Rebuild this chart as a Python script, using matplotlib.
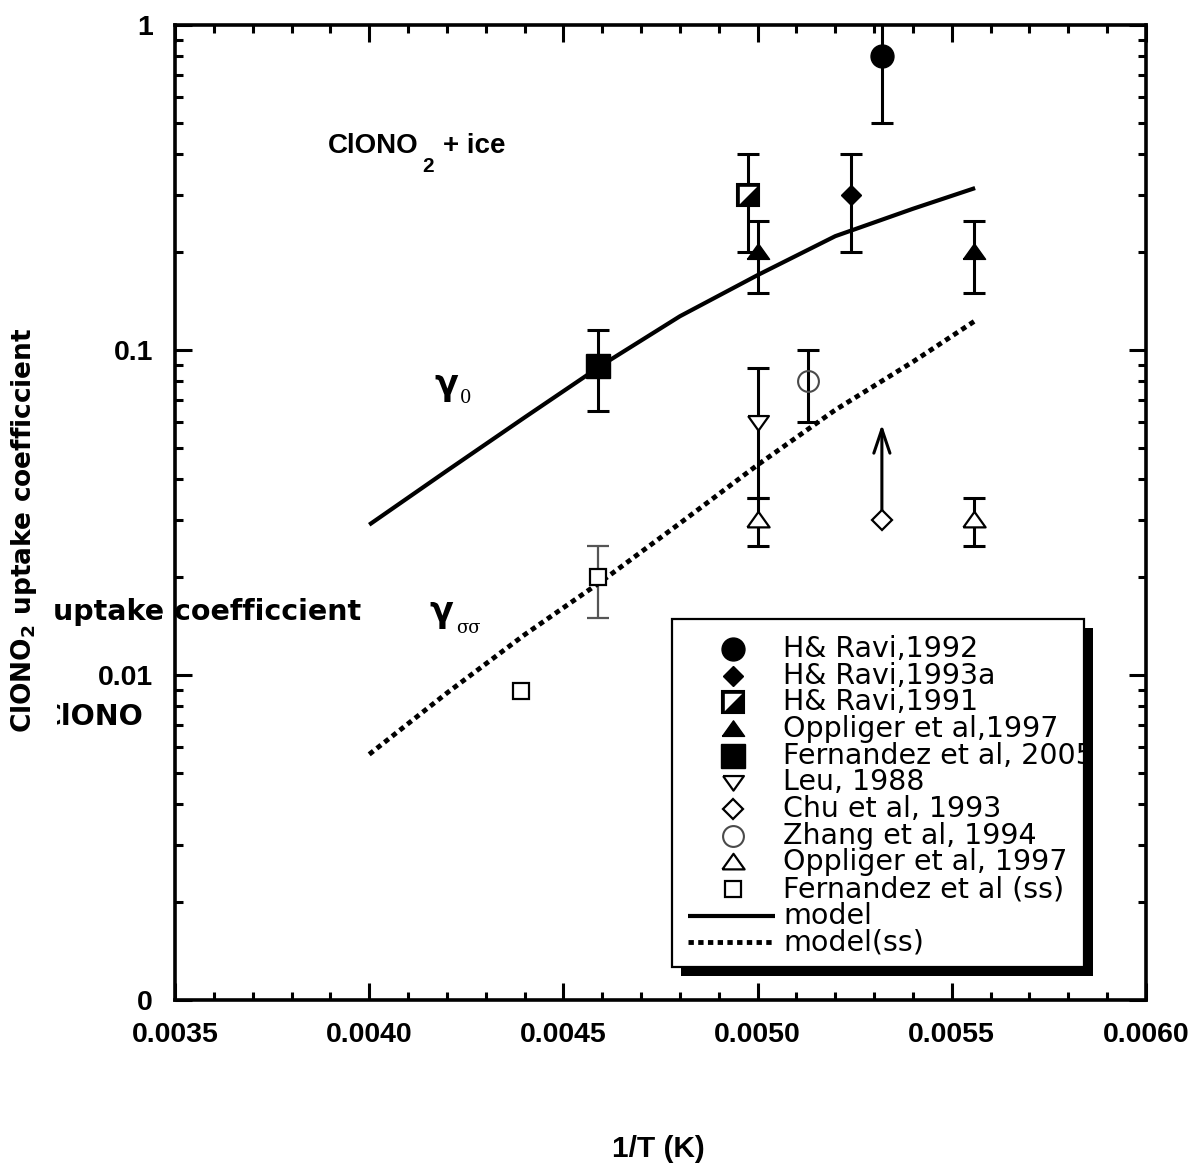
import matplotlib
matplotlib.use('Agg')
import matplotlib.pyplot as plt
from matplotlib.patches import Rectangle
from matplotlib.ticker import FixedLocator, FixedFormatter, NullFormatter, LogLocator, MultipleLocator
from matplotlib.transforms import Bbox
from matplotlib import font_manager as fm

# ---------------- data ----------------
hr92_x = [0.00532]; hr92_y = [0.80]; hr92_lo = [0.50]; hr92_hi = [1.30]
hr93_x = [0.00524]; hr93_y = [0.30]; hr93_lo = [0.20]; hr93_hi = [0.40]
hr91_x = [0.004975]; hr91_y = [0.30]; hr91_lo = [0.20]; hr91_hi = [0.40]
opp_x = [0.00500, 0.005556]; opp_y = [0.20, 0.20]; opp_lo = [0.15, 0.15]; opp_hi = [0.25, 0.25]
fern_x = [0.00459]; fern_y = [0.089]; fern_lo = [0.065]; fern_hi = [0.115]
leu_x = [0.00500]; leu_y = [0.060]; leu_lo = [0.035]; leu_hi = [0.088]
chu_x = [0.00532]; chu_y = [0.030]; chu_arrow_to = [0.059]
zhang_x = [0.00513]; zhang_y = [0.080]; zhang_lo = [0.060]; zhang_hi = [0.100]
oppss_x = [0.00500, 0.005556]; oppss_y = [0.030, 0.030]; oppss_lo = [0.025, 0.025]; oppss_hi = [0.035, 0.035]
fernss_x = [0.00459, 0.00439]; fernss_y = [0.020, 0.0089]
fernss_err_x = [0.00459]; fernss_err_y = [0.020]; fernss_err_lo = [0.015]; fernss_err_hi = [0.025]

model_x = [0.0040, 0.0042, 0.0044, 0.0046, 0.0048, 0.0050, 0.0052, 0.0054, 0.00556]
model_y = [0.029, 0.0425, 0.062, 0.090, 0.127, 0.170, 0.224, 0.272, 0.315]
modelss_x = [0.0040, 0.0042, 0.0044, 0.0046, 0.0048, 0.0050, 0.0052, 0.0054, 0.00556]
modelss_y = [0.0057, 0.0088, 0.0133, 0.0195, 0.0293, 0.0443, 0.0654, 0.0920, 0.123]

xtick_vals = [0.0035, 0.0040, 0.0045, 0.0050, 0.0055, 0.0060]
xtick_labels = ['0.0035', '0.0040', '0.0045', '0.0050', '0.0055', '0.0060']
ytick_vals = [0.001, 0.01, 0.1, 1.0]
ytick_labels = ['0', '0.01', '0.1', '1']

legend_labels = ['H& Ravi,1992', 'H& Ravi,1993a', 'H& Ravi,1991', 'Oppliger et al,1997',
                 'Fernandez et al, 2005', 'Leu, 1988', 'Chu et al, 1993', 'Zhang et al, 1994',
                 'Oppliger et al, 1997', 'Fernandez et al (ss)', 'model', 'model(ss)']

# ---------------- setup ----------------
plt.rcParams['font.family'] = ['Liberation Sans', 'DejaVu Sans']
plt.rcParams['font.weight'] = 'bold'
plt.rcParams['mathtext.fontset'] = 'custom'
plt.rcParams['mathtext.bf'] = 'DejaVu Sans:bold'
plt.rcParams['mathtext.rm'] = 'DejaVu Sans:bold'
plt.rcParams['mathtext.default'] = 'bf'

try:
    fm.findfont(fm.FontProperties(family='Liberation Sans Narrow', weight='bold'), fallback_to_default=False)
    NARROW = True
except Exception:
    NARROW = False

W, H = 1191, 1165
fig = plt.figure(figsize=(W / 100, H / 100), dpi=100)
AX_L, AX_R, AX_T, AX_B = 175, 1146, 25, 1000
ax = fig.add_axes([AX_L / W, (H - AX_B) / H, (AX_R - AX_L) / W, (AX_B - AX_T) / H])


def fx(px):
    return px / W


def fy(py):
    return 1 - py / H


def axf(px, py):
    return ((px - AX_L) / (AX_R - AX_L), (AX_B - py) / (AX_B - AX_T))


ax.set_yscale('log')
ax.set_xlim(0.0035, 0.0060)
ax.set_ylim(0.001, 1.0)

ax.xaxis.set_major_locator(FixedLocator(xtick_vals))
ax.xaxis.set_major_formatter(FixedFormatter(xtick_labels))
ax.xaxis.set_minor_locator(MultipleLocator(0.0001))
ax.yaxis.set_major_locator(FixedLocator(ytick_vals))
ax.yaxis.set_major_formatter(FixedFormatter(ytick_labels))
ax.yaxis.set_minor_locator(LogLocator(base=10, subs=[2, 3, 4, 5, 6, 7, 8, 9]))
ax.yaxis.set_minor_formatter(NullFormatter())

ax.tick_params(which='both', direction='in', top=True, right=True, width=2.2, colors='k')
ax.tick_params(which='major', length=12, pad=16, labelsize=20.5)
ax.tick_params(which='minor', length=6)
for lab in ax.get_xticklabels() + ax.get_yticklabels():
    lab.set_fontweight('bold')
for sp in ax.spines.values():
    sp.set_linewidth(2.6)

# ---------------- styles ----------------
TRI_UP = [(-1, -0.62), (1, -0.62), (0, 0.78), (-1, -0.62)]
TRI_DN = [(-1, 0.62), (1, 0.62), (0, -0.78), (-1, 0.62)]
UL_TRI = [(-1, -1), (-1, 1), (1, 1), (-1, -1)]

st_hr92 = dict(marker='o', ms=16.5, mfc='k', mec='k', mew=1, ls='none')
st_hr93 = dict(marker='D', ms=10.5, mfc='k', mec='k', mew=1, ls='none')
st_hr91 = dict(marker='s', ms=15.5, mfc='k', mec='k', mew=1.5, ls='none')
st_hr91b = dict(marker=UL_TRI, ms=12.5, mfc='white', mec='white', mew=0, ls='none')
st_opp = dict(marker=TRI_UP, ms=16, mfc='k', mec='k', mew=1, ls='none')
st_fern = dict(marker='s', ms=17, mfc='k', mec='k', mew=1, ls='none')
st_leu = dict(marker=TRI_DN, ms=15, mfc='white', mec='k', mew=1.6, ls='none')
st_chu = dict(marker='D', ms=10.5, mfc='white', mec='k', mew=1.6, ls='none')
st_zhang = dict(marker='o', ms=15, mfc='none', mec='#4a4a4a', mew=1.5, ls='none')
st_oppss = dict(marker=TRI_UP, ms=16, mfc='white', mec='k', mew=1.6, ls='none')
st_fernss = dict(marker='s', ms=11, mfc='white', mec='k', mew=1.6, ls='none')
st_model = dict(color='k', lw=3.0, solid_capstyle='butt')
st_modelss = dict(color='k', lw=3.5, linestyle=(0, (1.1, 0.9)), dash_capstyle='butt')


def ebar(x, y, lo, hi, color='k', lw=2.2):
    ax.errorbar(x, y, yerr=[[a - b for a, b in zip(y, lo)], [b - a for a, b in zip(y, hi)]],
                fmt='none', ecolor=color, elinewidth=lw, capsize=8, capthick=lw, zorder=2)


# ---------------- model lines ----------------
ax.plot(model_x, model_y, zorder=2.5, **st_model)
ax.plot(modelss_x, modelss_y, zorder=2.5, **st_modelss)

# ---------------- error bars ----------------
ebar(hr92_x, hr92_y, hr92_lo, hr92_hi)
ebar(hr93_x, hr93_y, hr93_lo, hr93_hi)
ebar(hr91_x, hr91_y, hr91_lo, hr91_hi)
ebar(opp_x, opp_y, opp_lo, opp_hi)
ebar(fern_x, fern_y, fern_lo, fern_hi)
ebar(leu_x, leu_y, leu_lo, leu_hi)
ebar(zhang_x, zhang_y, zhang_lo, zhang_hi)
ebar(oppss_x, oppss_y, oppss_lo, oppss_hi)
ebar(fernss_err_x, fernss_err_y, fernss_err_lo, fernss_err_hi, color='#555555', lw=1.6)

# arrow (lower limit)
ax.annotate('', xy=(chu_x[0], chu_arrow_to[0]), xytext=(chu_x[0], chu_y[0] * 1.04),
            arrowprops=dict(arrowstyle='->,head_length=0.86,head_width=0.29', lw=2.2,
                            color='k', shrinkA=0, shrinkB=0, mutation_scale=20), zorder=2)

# ---------------- markers ----------------
ax.plot(hr92_x, hr92_y, zorder=4, **st_hr92)
ax.plot(hr93_x, hr93_y, zorder=4, **st_hr93)
ax.plot(hr91_x, hr91_y, zorder=4, **st_hr91)
ax.plot(hr91_x, hr91_y, zorder=4.1, **st_hr91b)
ax.plot(opp_x, opp_y, zorder=4, **st_opp)
ax.plot(fern_x, fern_y, zorder=4, **st_fern)
ax.plot(leu_x, leu_y, zorder=4, **st_leu)
ax.plot(chu_x, chu_y, zorder=4, **st_chu)
ax.plot(zhang_x, zhang_y, zorder=4, **st_zhang)
ax.plot(oppss_x, oppss_y, zorder=4, **st_oppss)
ax.plot(fernss_x, fernss_y, zorder=4, **st_fernss)

# ---------------- legend (drawn by hand) ----------------
LB_L, LB_T, LB_R, LB_B = 672, 619, 1084, 967
SH = 9
x0, y0 = axf(LB_L + SH, LB_B + SH)
x1, y1 = axf(LB_R + SH, LB_T + SH)
ax.add_patch(Rectangle((x0, y0), x1 - x0, y1 - y0, transform=ax.transAxes, facecolor='k',
                       edgecolor='k', lw=0, zorder=6, clip_on=False))
x0, y0 = axf(LB_L, LB_B)
x1, y1 = axf(LB_R, LB_T)
ax.add_patch(Rectangle((x0, y0), x1 - x0, y1 - y0, transform=ax.transAxes, facecolor='white',
                       edgecolor='k', lw=1.6, zorder=6.1, clip_on=False))

key_styles = [[st_hr92], [st_hr93], [st_hr91, st_hr91b], [st_opp], [st_fern], [st_leu],
              [st_chu], [st_zhang], [st_oppss], [st_fernss], None, None]
ROW0, DROW = 649, 26.67
for i, lab in enumerate(legend_labels):
    yc = ROW0 + DROW * i
    if key_styles[i] is not None:
        for k, st in enumerate(key_styles[i]):
            px, py = axf(733, yc)
            ax.plot([px], [py], transform=ax.transAxes, clip_on=False, zorder=7 + 0.1 * k, **st)
    else:
        st = st_model if lab == 'model' else st_modelss
        pa, py = axf(688, yc)
        pb, _ = axf(775, yc)
        ax.plot([pa, pb], [py, py], transform=ax.transAxes, clip_on=False, zorder=7, **st)
    tx, ty = axf(783, yc + 8)
    ax.text(tx, ty, lab, transform=ax.transAxes, ha='left', va='baseline',
            fontfamily='DejaVu Sans', fontweight='normal', fontsize=20.5, zorder=8, clip_on=False)

# ---------------- annotations ----------------
ice_family = ['Liberation Sans Narrow', 'Liberation Sans'] if NARROW else ['Liberation Sans']
ice_size = 24 if NARROW else 20
fig.text(fx(328), fy(153), 'ClONO', ha='left', va='baseline', fontsize=ice_size,
         fontweight='bold', fontfamily=ice_family)
fig.text(fx(428), fy(166), '2', ha='center', va='center', fontsize=15,
         fontweight='bold', fontfamily=ice_family)
fig.text(fx(443), fy(153), '+ ice', ha='left', va='baseline', fontsize=ice_size,
         fontweight='bold', fontfamily=ice_family)

fig.text(fx(446), fy(385), 'γ', ha='center', va='center', fontsize=25, fontweight='bold',
         fontfamily='DejaVu Sans')
fig.text(fx(466), fy(398), '0', ha='center', va='center', fontsize=13, fontweight='normal',
         fontfamily='DejaVu Serif')
fig.text(fx(441), fy(612), 'γ', ha='center', va='center', fontsize=25, fontweight='bold',
         fontfamily='DejaVu Sans')
fig.text(fx(468), fy(628), 'σσ', ha='center', va='center', fontsize=13, fontweight='normal',
         fontfamily='DejaVu Serif')

# axis titles
fig.text(fx(658), fy(1149), '1/T (K)', ha='center', va='center', fontsize=21.5, fontweight='bold')
fig.text(fx(24), fy(530), r'ClONO$_2$ uptake coefficcient', ha='center', va='center',
         rotation=90, fontsize=19, fontweight='bold', fontfamily='DejaVu Sans')

# overlapping horizontal fragments of the original label
fig.text(fx(53), fy(612), 'uptake coefficcient', ha='left', va='center', fontsize=20.5,
         fontweight='bold', fontfamily='DejaVu Sans')
t = fig.text(fx(143), fy(717), 'ClONO', ha='right', va='center', fontsize=20.5,
             fontweight='bold', fontfamily='DejaVu Sans')
t.set_clip_box(Bbox.from_extents(57, 0, W, H))
t.set_clip_on(True)

fig.savefig('out.png', dpi=100)
